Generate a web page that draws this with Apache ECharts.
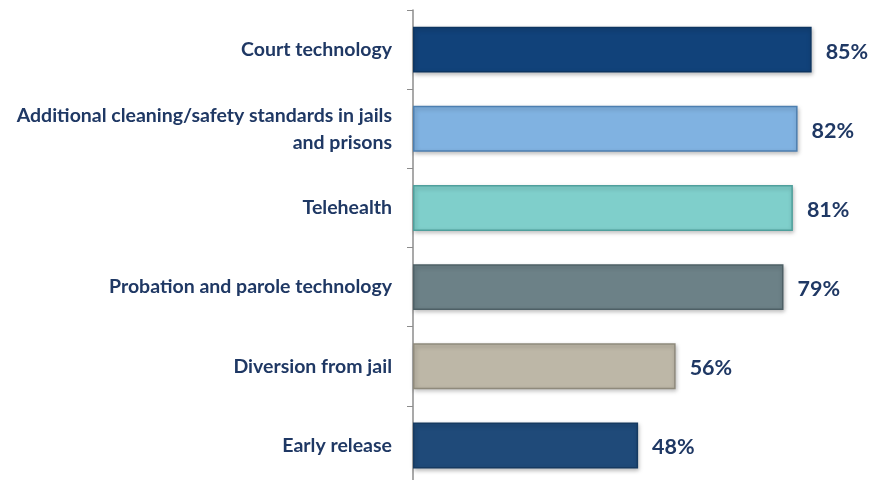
<!DOCTYPE html>
<html>
<head>
<meta charset="utf-8">
<script src="https://cdn.jsdelivr.net/npm/echarts@6/dist/echarts.min.js"></script>
<style>
  html, body { margin: 0; padding: 0; background: #fff; }
  #chart { width: 872px; height: 480px; }
</style>
</head>
<body>
<div id="chart"></div>
<script>
var categories = [
    'Court technology',
    'Additional cleaning/safety standards in jails\nand prisons',
    'Telehealth',
    'Probation and parole technology',
    'Diversion from jail',
    'Early release'
]

var values = [85, 82, 81, 79, 56, 48]

var barColors = ['#11427a', '#80b2e1', '#7fcfcb', '#6c8187', '#bdb7a7', '#1f4a79']
var borderColors = ['#0d3561', '#4d7fb0', '#4f9f9c', '#4e6066', '#8f8a7c', '#163a61']

var chart = echarts.init(document.getElementById('chart'))

var option = {
    animation: false,
    grid: {
        left: 413,
        top: 10,
        width: 469,
        height: 475,
        outerBoundsMode: 'none',
        containLabel: false
    },
    xAxis: {
        type: 'value',
        min: 0,
        max: 100,
        show: false
    },
    yAxis: {
        type: 'category',
        inverse: true,
        data: categories,
        axisLine: { show: true, lineStyle: { color: '#8c8c8c', width: 1.5 } },
        axisTick: { show: true, length: 6, lineStyle: { color: '#8c8c8c' } },
        axisLabel: {
            margin: 21,
            color: '#1f3864',
            fontFamily: 'Lato',
            fontWeight: 'bold',
            fontSize: 19.5,
            lineHeight: 27,
            padding: [6, 0, 0, 0],
            align: 'right'
        }
    },
    series: [{
        type: 'bar',
        barWidth: '58%',
        data: values.map(function (v, i) {
            return {
                value: v,
                itemStyle: {
                    color: barColors[i],
                    borderColor: borderColors[i],
                    borderWidth: 1.5,
                    shadowColor: 'rgba(0,0,0,0.25)',
                    shadowBlur: 4,
                    shadowOffsetX: 1,
                    shadowOffsetY: 2
                }
            }
        }),
        label: {
            show: true,
            position: 'right',
            distance: 14,
            offset: [0, 2],
            formatter: '{c}%',
            color: '#1f3864',
            fontFamily: 'Lato',
            fontWeight: 'bold',
            fontSize: 21.5
        }
    }]
}

chart.setOption(option)
</script>
</body>
</html>
